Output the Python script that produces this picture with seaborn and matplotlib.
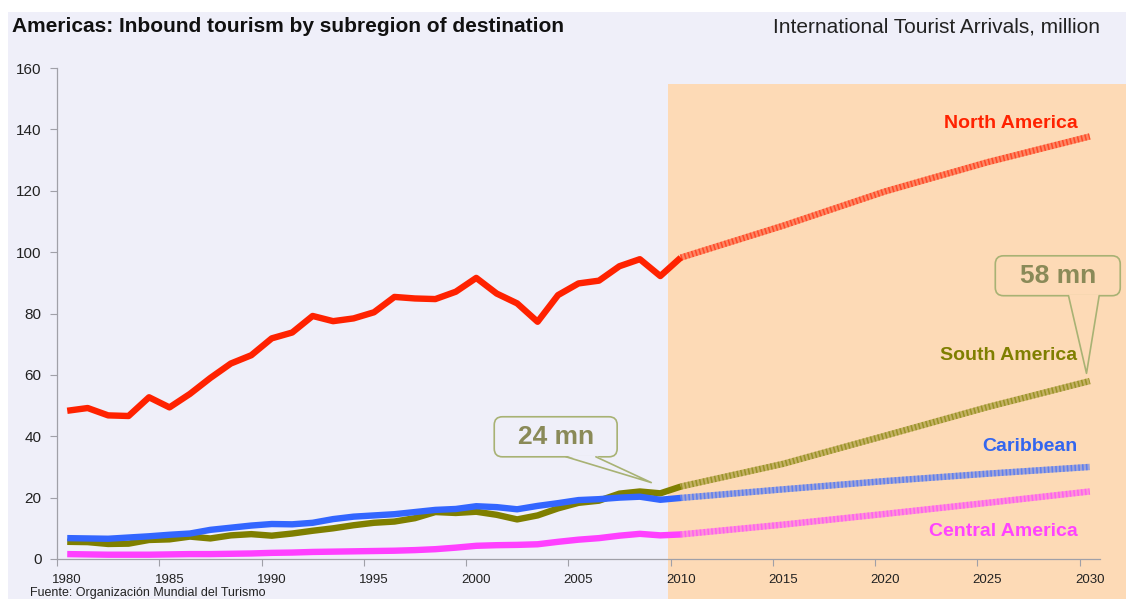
import matplotlib
matplotlib.use("Agg")
import matplotlib.pyplot as plt
import matplotlib.transforms as mtransforms
from matplotlib.patches import Rectangle, FancyBboxPatch, Polygon
import pandas as pd
import seaborn as sns

# Datos (llegadas de turistas internacionales, millones)
years_hist = list(range(1980, 2011))
north_hist = [48.3, 49.2, 46.8, 46.6, 52.7, 49.4, 53.8, 59.0, 63.7, 66.4,
              71.9, 73.8, 79.2, 77.5, 78.4, 80.4, 85.4, 84.9, 84.7, 87.1,
              91.6, 86.5, 83.3, 77.3, 86.0, 89.8, 90.7, 95.4, 97.7, 92.2,
              98.2]
caribbean_hist = [6.8, 6.7, 6.6, 7.0, 7.4, 7.9, 8.3, 9.5, 10.2, 10.9,
                  11.4, 11.3, 11.8, 13.0, 13.8, 14.2, 14.6, 15.3, 16.0, 16.3,
                  17.2, 16.9, 16.2, 17.3, 18.2, 19.2, 19.5, 20.0, 20.3, 19.3,
                  19.9]
south_hist = [5.6, 5.5, 4.9, 5.0, 6.2, 6.4, 7.3, 6.7, 7.7, 8.1,
              7.6, 8.3, 9.2, 10.0, 11.0, 11.8, 12.2, 13.3, 15.3, 15.0,
              15.4, 14.4, 12.9, 14.2, 16.5, 18.3, 19.0, 21.3, 22.0, 21.4,
              23.6]
central_hist = [1.6, 1.5, 1.4, 1.4, 1.4, 1.5, 1.6, 1.6, 1.7, 1.8,
                2.0, 2.1, 2.3, 2.4, 2.5, 2.6, 2.7, 2.9, 3.2, 3.7,
                4.3, 4.5, 4.6, 4.8, 5.6, 6.3, 6.8, 7.6, 8.2, 7.7,
                8.0]

# Proyecciones 2010-2030
years_proj = [2010, 2015, 2020, 2025, 2030]
north_proj = [98.2, 108.6, 119.8, 129.3, 137.7]
south_proj = [23.6, 31.0, 40.2, 49.5, 58.0]
caribbean_proj = [19.9, 22.7, 25.4, 27.8, 30.0]
central_proj = [8.0, 11.2, 14.7, 18.3, 22.0]

regions = ["North America", "South America", "Caribbean", "Central America"]
colors = {"North America": "#FF2200", "South America": "#7F7F00",
          "Caribbean": "#3366FF", "Central America": "#FF40FF"}
label_colors = {"North America": "#FF2200", "South America": "#7F7F00",
                "Caribbean": "#3366EE", "Central America": "#FF44FF"}
label_y = {"North America": 141.8, "South America": 66.4,
           "Caribbean": 36.5, "Central America": 9.1}

x_ticks = [1980, 1985, 1990, 1995, 2000, 2005, 2010, 2015, 2020, 2025, 2030]
y_ticks = [0, 20, 40, 60, 80, 100, 120, 140, 160]

hist_df = pd.DataFrame({
    "year": years_hist * 4,
    "arrivals": north_hist + south_hist + caribbean_hist + central_hist,
    "region": [r for r in regions for _ in years_hist],
})
proj_df = pd.DataFrame({
    "year": years_proj * 4,
    "arrivals": north_proj + south_proj + caribbean_proj + central_proj,
    "region": [r for r in regions for _ in years_proj],
})

sns.set_theme(style="white")
plt.rcParams["font.family"] = ["Liberation Sans", "DejaVu Sans"]

bg = "#EFEFF9"
orange = "#FDDAB6"
edge = "#A8B274"

fig = plt.figure(figsize=(11.26, 5.99), dpi=100, facecolor="white")
# Fondo lila (deja un margen blanco arriba y a la izquierda)
fig.patches.append(Rectangle((8 / 1126, 0), 1, 1 - 12 / 599, transform=fig.transFigure,
                             facecolor=bg, edgecolor="none", zorder=-10))

ax = fig.add_axes([57 / 1126, 40 / 599, 1043 / 1126, 491 / 599])
ax.set_facecolor("none")

# Zona de proyección en naranja
trans = mtransforms.blended_transform_factory(ax.transData, ax.transAxes)
ax.add_patch(Rectangle((2009.4, -0.082), 23, 1.05, transform=trans,
                       facecolor=orange, edgecolor="none", clip_on=False, zorder=0))

# Serie histórica
sns.lineplot(data=hist_df, x="year", y="arrivals", hue="region", palette=colors,
             linewidth=4.6, legend=False, ax=ax, zorder=3, solid_capstyle="butt")

# Proyección: trazo claro con textura punteada encima
sns.lineplot(data=proj_df, x="year", y="arrivals", hue="region", palette=colors,
             linewidth=4.6, alpha=0.45, legend=False, ax=ax, zorder=3,
             solid_capstyle="butt")
sns.lineplot(data=proj_df, x="year", y="arrivals", hue="region", palette=colors,
             linewidth=4.6, alpha=0.6, legend=False, ax=ax, zorder=3,
             linestyle=(0, (0.25, 0.35)), dash_capstyle="butt")

# Etiquetas de las series
for r in regions:
    ax.text(2029.4, label_y[r], r, color=label_colors[r], fontsize=14,
            fontweight="bold", ha="right", va="center", zorder=4)


def callout(text, box, tail, face):
    """Globo de texto con cola triangular (coordenadas de datos)."""
    x0, x1, y0, y1 = box
    bx0, bx1, tx, ty = tail
    ax.add_patch(FancyBboxPatch((x0, y0), x1 - x0, y1 - y0,
                                boxstyle="round,pad=0,rounding_size=0.4",
                                mutation_aspect=6.66, fc=face, ec=edge, lw=1.2,
                                clip_on=False, zorder=5))
    ax.add_patch(Polygon([(bx0, y0 + 0.4), (tx, ty), (bx1, y0 + 0.4)], closed=True,
                         fc=face, ec="none", clip_on=False, zorder=6))
    ax.plot([bx0, tx, bx1], [y0, ty, y0], color=edge, lw=1.2, clip_on=False, zorder=6)
    ax.text((x0 + x1) / 2, (y0 + y1) / 2, text, color="#8A8A58", fontsize=19,
            fontweight="bold", ha="center", va="center", zorder=7)


callout("24 mn", (2000.88, 2006.89, 33.3, 46.35), (2004.39, 2005.85, 2008.56, 24.9), bg)
callout("58 mn", (2025.38, 2031.49, 85.8, 98.8), (2028.96, 2030.46, 2029.84, 60.5), orange)

# Ejes
ax.set_xlim(1979.5, 2030.5)
ax.set_ylim(0, 160)
ax.set_yticks(y_ticks)
ax.set_yticklabels([str(v) for v in y_ticks], fontsize=11, color="#222222")
# marcas entre categorías, etiquetas centradas en el año
ax.set_xticks([t - 0.5 for t in x_ticks])
ax.set_xticklabels([])
ax.set_xticks(x_ticks, minor=True)
ax.set_xticklabels([str(t) for t in x_ticks], minor=True, fontsize=9.5, color="#222222")
ax.tick_params(axis="x", which="major", length=5, color="#A0A0A8", width=0.8,
               direction="out", bottom=True)
ax.tick_params(axis="x", which="minor", length=0, pad=11)
ax.tick_params(axis="y", length=5, color="#A0A0A8", width=0.8, direction="out",
               left=True, pad=6)
ax.set_xlabel("")
ax.set_ylabel("")
for side in ["top", "right"]:
    ax.spines[side].set_visible(False)
for side in ["left", "bottom"]:
    ax.spines[side].set_color("#A0A0A8")
    ax.spines[side].set_linewidth(0.9)

# Títulos y fuente
fig.text(12 / 1126, 1 - 27 / 599, "Americas: Inbound tourism by subregion of destination",
         fontsize=15, fontweight="bold", color="#111111", ha="left", va="center")
fig.text(1100 / 1126, 1 - 27 / 599, "International Tourist Arrivals, million",
         fontsize=15, color="#222222", ha="right", va="center")
fig.text(30 / 1126, 1 - 587 / 599, "Fuente: Organización Mundial del Turismo",
         fontsize=9, color="#222222", ha="left", va="top")

fig.savefig("out.png", dpi=100, facecolor=fig.get_facecolor())
